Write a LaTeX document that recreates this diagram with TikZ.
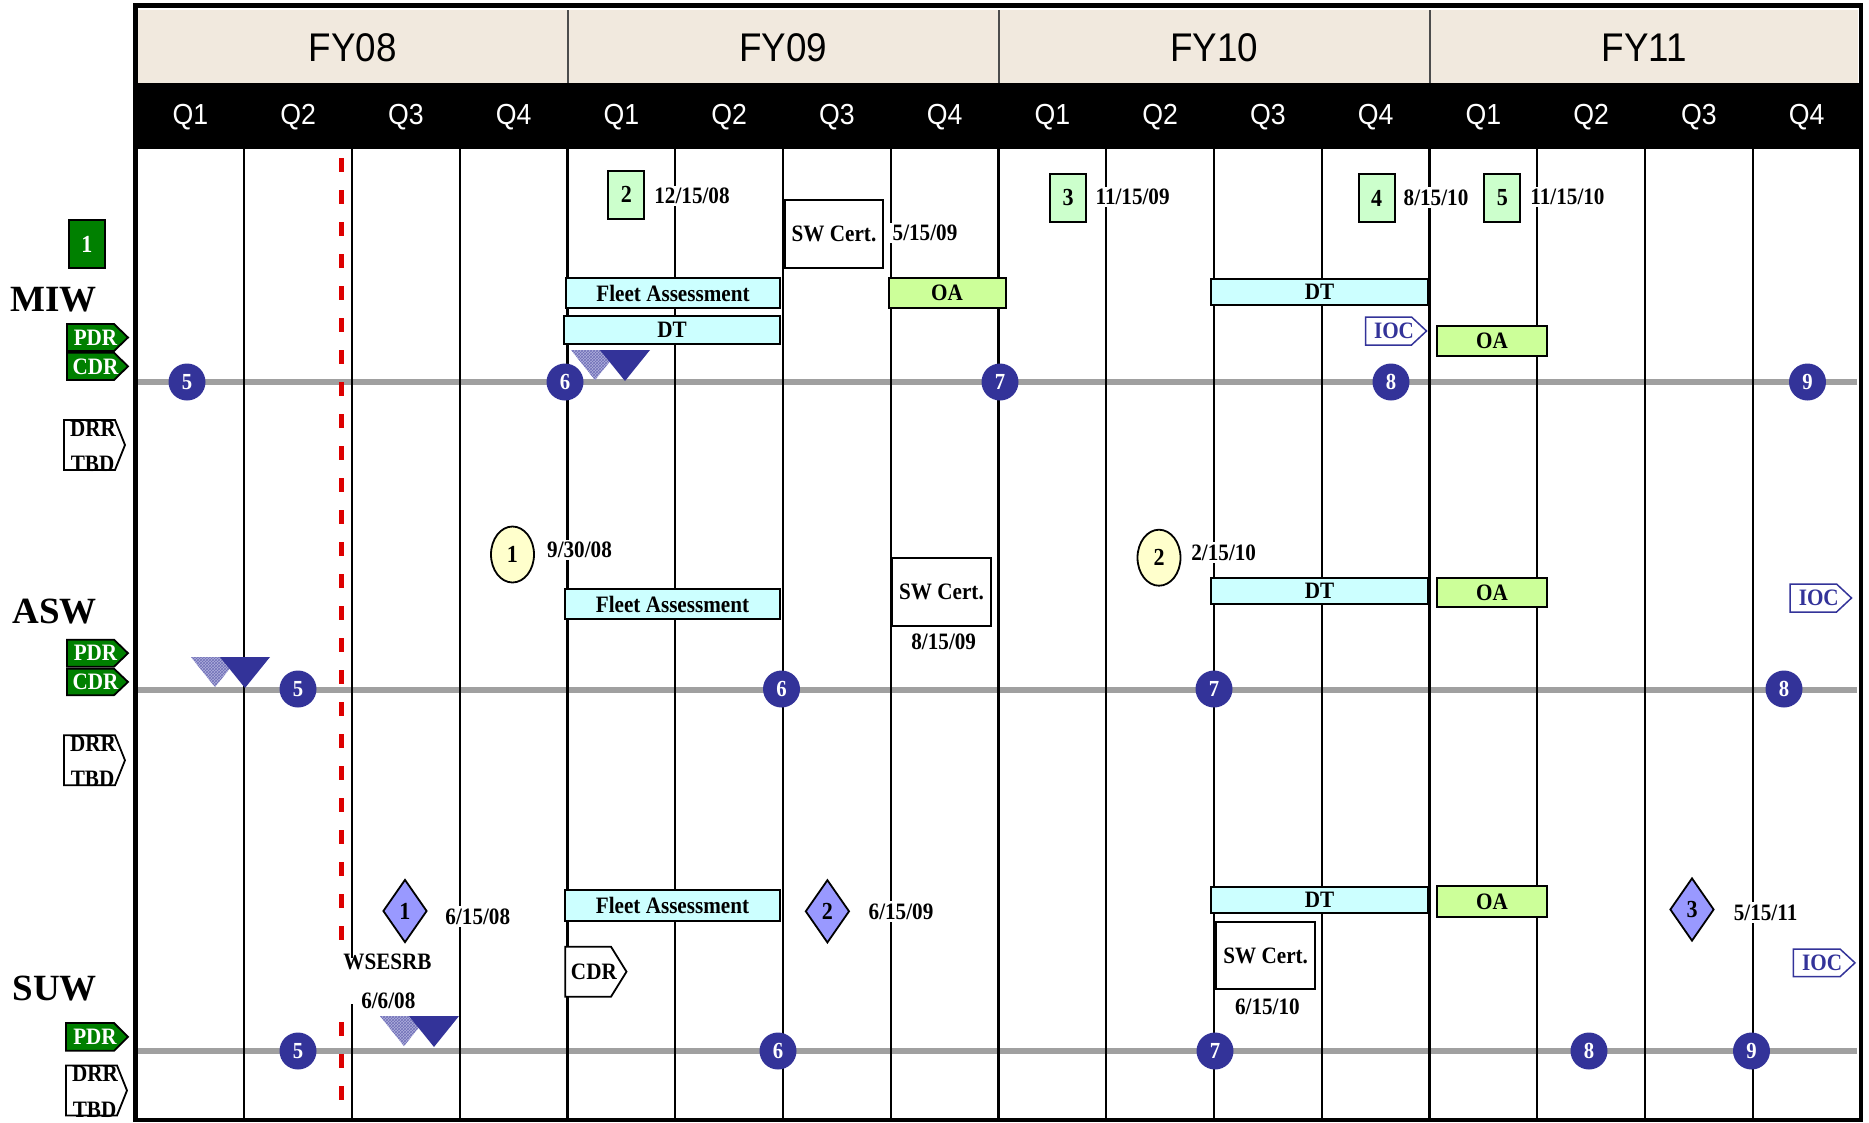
\documentclass[tikz,border=0pt]{standalone}
\usepackage{fontspec}
\setmainfont{Liberation Serif}
\newfontfamily\bodyf[FakeStretch=0.9]{Liberation Serif}
\newfontfamily\hdr[FakeStretch=0.92]{Liberation Sans}
\usetikzlibrary{shapes.geometric,patterns}
\definecolor{navy}{RGB}{51,51,153}
\definecolor{cyanl}{RGB}{204,255,255}
\definecolor{oagreen}{RGB}{204,255,153}
\definecolor{sqgreen}{RGB}{204,255,204}
\definecolor{dkgreen}{RGB}{0,128,0}
\definecolor{yel}{RGB}{255,255,204}
\definecolor{diablue}{RGB}{153,153,255}
\definecolor{tanhdr}{RGB}{241,233,222}
\definecolor{rowgray}{RGB}{160,160,160}
\definecolor{hatchfill}{RGB}{175,175,220}
\definecolor{redd}{RGB}{220,0,0}
\tikzset{
  lbl/.style={font=\bodyf\fontsize{23.5}{26}\selectfont\bfseries, inner sep=0pt},
  datelbl/.style={lbl, fill=white, inner sep=2.5pt},
  bar/.style={draw=black, line width=2pt, inner sep=0pt, font=\bodyf\fontsize{23.5}{26}\selectfont\bfseries},
  fa/.style={bar, fill=cyanl},
  oa/.style={bar, fill=oagreen},
  cert/.style={bar, fill=white},
  sq/.style={draw=black, line width=2pt, fill=sqgreen, font=\bodyf\fontsize{24.5}{26}\selectfont\bfseries, inner sep=0pt, minimum width=36, minimum height=48},
  mcirc/.style={circle, fill=navy, text=white, minimum size=37, inner sep=0pt, font=\bodyf\fontsize{23}{25}\selectfont\bfseries},
  ell/.style={ellipse, draw=black, line width=1.8pt, fill=yel, minimum width=43, minimum height=56, inner sep=0pt, font=\bodyf\fontsize{24.5}{26}\selectfont\bfseries},
  dia/.style={diamond, draw=black, line width=1.8pt, fill=diablue, minimum width=44, minimum height=63, inner sep=0pt, font=\bodyf\fontsize{24.5}{26}\selectfont\bfseries},
  rowlbl/.style={font=\fontsize{37}{40}\selectfont\bfseries, inner sep=0pt},
  yrlbl/.style={font=\hdr\fontsize{40}{44}\selectfont, inner sep=0pt},
  qlbl/.style={font=\hdr\fontsize{29}{32}\selectfont, text=white, inner sep=0pt},
  gridline/.style={line width=2.2pt, black},
  rowline/.style={line width=6pt, rowgray},
  pdrstyle/.style={draw=black, line width=1.8pt, fill=dkgreen},
  iocstyle/.style={draw=navy, line width=1.5pt, fill=white},
  cdrstyle/.style={draw=black, line width=1.8pt, fill=white}
}
% name, x1, y1, x2, y2, tip depth, path style, text
\newcommand{\flagshape}[8]{%
  \path[#7] (#2,#3) -- ({#4-#6},#3) -- (#4,{(#3+#5)/2}) -- ({#4-#6},#5) -- (#2,#5) -- cycle;
  \node[lbl] (#1) at ({(#2+#4)/2-2},{(#3+#5)/2}) {#8};
}
% name, x, y (top-left)
\newcommand{\drrbox}[3]{%
  \draw[line width=1.8pt] (#2,#3) -- ({#2+51},#3) -- ({#2+61},{#3+25}) -- ({#2+51},{#3+50}) -- (#2,{#3+50}) -- cycle;
  \node[lbl] (#1a) at ({#2+29},{#3+8.5}) {DRR};
  \node[lbl] (#1b) at ({#2+28.6},{#3+44}) {TBD};
}
% hatched + solid milestone triangles: tip x of hatched, top y
\newcommand{\tripair}[2]{%
  \fill[hatchfill] ({#1-24},#2) -- ({#1+24},#2) -- (#1,{#2+30}) -- cycle;
  \fill[pattern=crosshatch, pattern color=navy!70] ({#1-24},#2) -- ({#1+24},#2) -- (#1,{#2+30}) -- cycle;
  \fill[navy] ({#1+5},#2) -- ({#1+55},#2) -- ({#1+30},{#2+31}) -- cycle;
}
\begin{document}
\begin{tikzpicture}[x=1pt,y=-1pt]
\useasboundingbox (0,0) rectangle (1869,1122);
\fill[white] (0,0) rectangle (1869,1122);
% header
\fill[tanhdr] (138,10) rectangle (1858,83);
\fill[black] (136,83) rectangle (1860,149);
\foreach \x in {567.5,998.5,1429.5} \draw[line width=2pt, black!70] (\x,10) -- (\x,83);
\node[yrlbl] (fy08) at (352.75,47.5) {FY08};
\node[yrlbl] (fy09) at (783,47.5) {FY09};
\node[yrlbl] (fy10) at (1214,47.5) {FY10};
\node[yrlbl] (fy11) at (1644.5,47.5) {FY11};
\foreach \k in {0,...,15} {
  \pgfmathsetmacro\qx{136.5+107.75*(\k+0.5)}
  \pgfmathtruncatemacro\qn{mod(\k,4)+1}
  \node[qlbl] (q\k) at (\qx,117) {Q\qn};
}
% row timelines
\draw[rowline] (137,382) -- (1857,382);
\draw[rowline] (137,689.5) -- (1857,689.5);
\draw[rowline] (137,1051) -- (1857,1051);
% grid
\foreach \k in {1,...,15} {
  \pgfmathsetmacro\gx{136.5+107.75*\k}
  \draw[gridline] (\gx,149) -- (\gx,1119);
}
% red dashed line
\draw[redd, line width=4.5pt, dash pattern=on 14pt off 18pt] (341.5,158) -- (341.5,1111);
% frame
\draw[line width=4.5pt] (135.5,5.5) rectangle (1861,1120);

% triangles
\tripair{595}{350}
\tripair{215}{657}
\tripair{404}{1016}

% ===== MIW =====
\node[rowlbl] (miw) at (53.5,299.5) {MIW};
\node[sq, fill=dkgreen, text=white] (s1) at (87,244) {1};
\flagshape{pdrM}{67}{324}{128}{351}{14}{pdrstyle}{\textcolor{white}{PDR}}
\flagshape{cdrM}{67}{352.7}{128}{380}{14}{pdrstyle}{\textcolor{white}{CDR}}
\drrbox{drrM}{64}{420}

\node[sq] (s2) at (626.3,194.5) {2};
\node[datelbl] (d2) at (692,196) {12/15/08};
\node[sq] (s3) at (1068,198) {3};
\node[datelbl] (d3) at (1132.6,197) {11/15/09};
\node[sq] (s4) at (1376.7,198) {4};
\node[datelbl] (d4) at (1436,197.5) {8/15/10};
\node[sq] (s5) at (1502.4,198) {5};
\node[datelbl] (d5) at (1567.5,197) {11/15/10};

\node[fa, minimum width=214, minimum height=30] (faM) at (673,293) {Fleet Assessment};
\node[fa, minimum width=216, minimum height=28] (dtM1) at (672,330) {DT};
\node[cert, minimum width=98, minimum height=68] (swM) at (834,234) {SW Cert.};
\node[datelbl] (dswM) at (925,233) {5/15/09};
\node[oa, minimum width=117, minimum height=30] (oaM1) at (947,293) {OA};
\node[fa, minimum width=217, minimum height=26] (dtM2) at (1319.5,292) {DT};
\flagshape{iocM}{1365.5}{317}{1426.5}{345}{15}{iocstyle}{\textcolor{navy}{IOC}}
\node[oa, minimum width=110, minimum height=30] (oaM2) at (1492,341) {OA};

\foreach \x/\n in {187/5,565/6,1000/7,1391/8,1807.5/9}
  \node[mcirc] (cM\n) at (\x,382) {\n};

% ===== ASW =====
\node[rowlbl] (asw) at (54.7,612) {ASW};
\flagshape{pdrA}{67}{639.7}{128}{666.7}{14}{pdrstyle}{\textcolor{white}{PDR}}
\flagshape{cdrA}{67}{668.7}{128}{695.2}{14}{pdrstyle}{\textcolor{white}{CDR}}
\drrbox{drrA}{64}{735.3}

\node[ell] (e1) at (512.5,554.5) {1};
\node[datelbl] (de1) at (579.5,550) {9/30/08};
\node[fa, minimum width=215, minimum height=30] (faA) at (672.5,604) {Fleet Assessment};
\node[cert, minimum width=99, minimum height=68] (swA) at (941.5,592) {SW Cert.};
\node[datelbl] (dswA) at (943.7,641.7) {8/15/09};
\node[ell] (e2) at (1159,557.7) {2};
\node[datelbl] (de2) at (1223.7,552.3) {2/15/10};
\node[fa, minimum width=217, minimum height=26] (dtA) at (1319.5,591) {DT};
\node[oa, minimum width=110, minimum height=29] (oaA) at (1492,592.5) {OA};
\flagshape{iocA}{1790}{584}{1851.5}{612}{15}{iocstyle}{\textcolor{navy}{IOC}}

\foreach \x/\n in {298/5,781.5/6,1214/7,1784/8}
  \node[mcirc] (cA\n) at (\x,689) {\n};

% ===== SUW =====
\node[rowlbl] (suw) at (54.7,989) {SUW};
\flagshape{pdrS}{66}{1023}{128}{1050.8}{14}{pdrstyle}{\textcolor{white}{PDR}}
\drrbox{drrS}{66}{1065.5}

\node[dia] (m1) at (405,911) {1};
\node[datelbl] (dm1) at (477.8,916.7) {6/15/08};
\node[fill=white, minimum width=100, minimum height=46, inner sep=0pt] (wsbg) at (386,980.5) {};
\node[lbl] (ws) at (387.5,962) {WSESRB};
\node[lbl] (wsd) at (388.3,1000.7) {6/6/08};
\node[fa, minimum width=215, minimum height=31] (faS) at (672.5,905.5) {Fleet Assessment};
\flagshape{cdrS}{565.3}{946.7}{626.5}{996.7}{15.5}{cdrstyle}{CDR}
\node[dia] (m2) at (827.4,911.3) {2};
\node[datelbl] (dm2) at (901,911.7) {6/15/09};
\node[fa, minimum width=217, minimum height=26] (dtS) at (1319.5,900) {DT};
\node[oa, minimum width=110, minimum height=31] (oaS) at (1492,901.5) {OA};
\node[cert, minimum width=98.5, minimum height=67.6] (swS) at (1265.7,955.5) {SW Cert.};
\node[datelbl] (dswS) at (1267.4,1006.7) {6/15/10};
\node[dia] (m3) at (1692,909.5) {3};
\node[datelbl] (dm3) at (1765.6,912.7) {5/15/11};
\flagshape{iocS}{1793.3}{949}{1855}{976.7}{15}{iocstyle}{\textcolor{navy}{IOC}}

\foreach \x/\n in {298/5,778/6,1215/7,1589/8,1751.5/9}
  \node[mcirc] (cS\n) at (\x,1051) {\n};
\end{tikzpicture}
\end{document}
